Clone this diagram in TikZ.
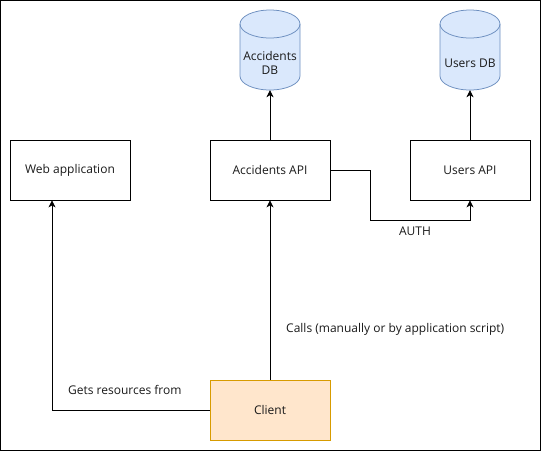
\documentclass[tikz,border=0pt]{standalone}
\usepackage{fontspec}
\setmainfont{Open Sans}
\usetikzlibrary{arrows.meta}
\definecolor{dbfill}{HTML}{DAE8FC}
\definecolor{dbline}{HTML}{6C8EBF}
\definecolor{clfill}{HTML}{FFE6CC}
\definecolor{clline}{HTML}{D79B00}
\definecolor{txt}{HTML}{1A1A1A}
\begin{document}
\begin{tikzpicture}[x=1pt,y=-1pt,
  every node/.style={font=\fontsize{12}{16}\selectfont, text=txt},
  box/.style={draw=black, line width=0.75pt, minimum width=120pt, minimum height=60pt, inner sep=0pt, fill=white},
  cyl/.style={draw=none, minimum width=60pt, minimum height=80pt, inner sep=0pt, align=center},
  arr/.style={draw=black, line width=0.75pt, -{Stealth[length=7pt,width=7pt,inset=2pt]}},
  lbl/.style={inner sep=0pt}]
\useasboundingbox (0,0) rectangle (541,451);
\draw[line width=0.9pt] (0.5,0.5) rectangle (540.3,450.3);

\node[box] (web) at (70,170) {Web application};
\node[box] (aapi) at (270,170) {Accidents API};
\node[box] (uapi) at (470,170) {Users API};
\node[box, fill=clfill, draw=clline] (client) at (270,410) {Client};

% cylinders
\foreach \c/\x in {adbshape/240, udbshape/440}{
  \fill[dbfill] (\x,24) -- (\x,76) arc[start angle=180,end angle=0,x radius=30,y radius=14]
    -- (\x+60,24) arc[start angle=0,end angle=-180,x radius=30,y radius=14] -- cycle;
  \draw[dbline, line width=0.75pt] (\x,24) -- (\x,76) arc[start angle=180,end angle=0,x radius=30,y radius=14]
    -- (\x+60,24) arc[start angle=0,end angle=-180,x radius=30,y radius=14];
  \draw[dbline, line width=0.75pt] (\x,24) arc[start angle=180,end angle=0,x radius=30,y radius=14];
}
\node[cyl] (adb) at (270,50) {};
\node[cyl] (udb) at (470,50) {};
\node[lbl, align=center] (adbt) at (270,63) {Accidents\\[-2pt]DB};
\node[lbl] (udbt) at (470,63) {Users DB};

\draw[arr] (aapi.north) -- (adb.south);
\draw[arr] (uapi.north) -- (udb.south);
\draw[arr] (aapi.east) -- ++(40,0) -- ++(0,50) -| (uapi.south);
\draw[arr] (client.north) -- (aapi.south);
\draw[arr] (client.west) -| ([xshift=-18pt]web.south);

\node[lbl] (auth) at (415,231) {AUTH};
\node[lbl, anchor=west] (calls) at (286,329) {Calls (manually or by application script)};
\node[lbl, anchor=west] (gets) at (68,390) {Gets resources from};
\end{tikzpicture}
\end{document}
